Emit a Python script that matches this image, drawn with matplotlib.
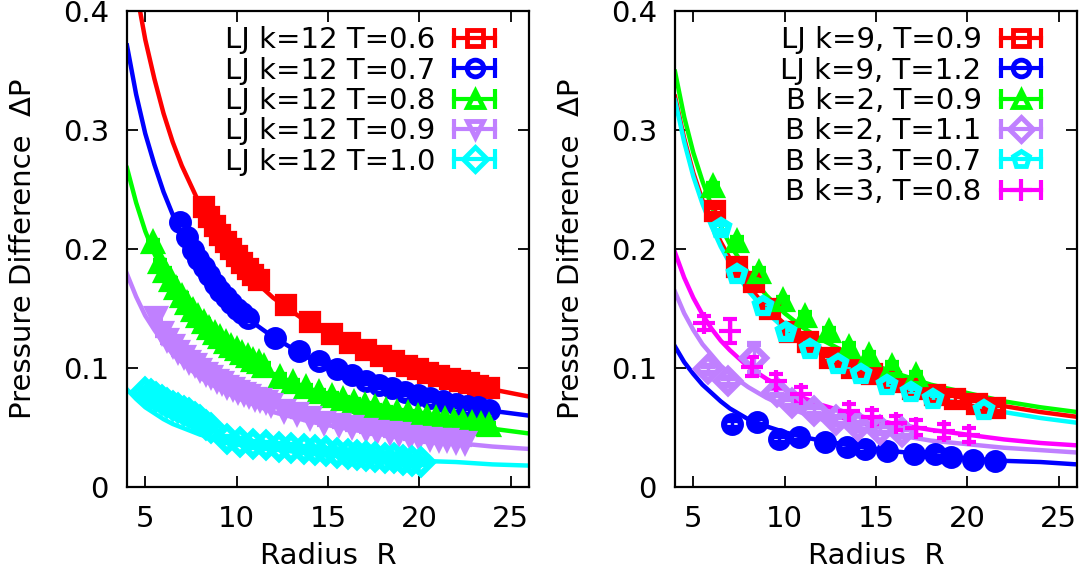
import matplotlib
matplotlib.use("Agg")
import matplotlib.pyplot as plt
from matplotlib.lines import Line2D
from matplotlib.legend_handler import HandlerLine2D, HandlerTuple
from matplotlib.ticker import FuncFormatter

# ---------------- data ----------------
fit_R = [4, 4.5, 5, 5.5, 6, 6.5, 7, 8, 9, 10, 11, 12, 14, 16, 18, 20, 22, 24, 26]

# left panel: fitted curves
L_fit_06 = [0.470, 0.418, 0.376, 0.343, 0.314, 0.290, 0.270, 0.237, 0.211, 0.190, 0.173, 0.159, 0.137, 0.120, 0.107, 0.097, 0.089, 0.082, 0.076]
L_fit_07 = [0.371, 0.330, 0.297, 0.271, 0.248, 0.229, 0.213, 0.187, 0.167, 0.150, 0.137, 0.126, 0.108, 0.095, 0.085, 0.077, 0.070, 0.064, 0.060]
L_fit_08 = [0.268, 0.239, 0.215, 0.196, 0.180, 0.167, 0.155, 0.136, 0.122, 0.110, 0.101, 0.093, 0.080, 0.071, 0.063, 0.058, 0.053, 0.049, 0.045]
L_fit_09 = [0.179, 0.160, 0.144, 0.132, 0.121, 0.112, 0.105, 0.092, 0.083, 0.075, 0.069, 0.063, 0.055, 0.049, 0.044, 0.040, 0.037, 0.034, 0.032]
L_fit_10 = [0.082, 0.074, 0.067, 0.062, 0.057, 0.053, 0.050, 0.044, 0.040, 0.037, 0.034, 0.032, 0.028, 0.026, 0.024, 0.022, 0.021, 0.019, 0.018]

# left panel: measured points
L_R_06 = [8.2, 8.5, 8.8, 9.1, 9.4, 9.7, 10.0, 10.3, 10.6, 10.9, 11.2, 12.7, 14.0, 15.2, 16.2, 17.1, 17.9, 18.6, 19.3, 19.9, 20.5, 21.1, 21.7, 22.2, 22.7, 23.2, 23.8]
L_P_06 = [0.235, 0.227, 0.219, 0.212, 0.206, 0.200, 0.194, 0.188, 0.183, 0.178, 0.174, 0.153, 0.139, 0.129, 0.121, 0.115, 0.110, 0.106, 0.102, 0.099, 0.096, 0.093, 0.091, 0.089, 0.087, 0.085, 0.083]

L_R_07 = [6.9, 7.3, 7.6, 7.9, 8.2, 8.5, 8.8, 9.1, 9.4, 9.7, 10.0, 10.3, 10.6, 12.1, 13.4, 14.5, 15.5, 16.3, 17.1, 17.8, 18.5, 19.2, 19.9, 20.6, 21.3, 22.0, 22.6, 23.2, 23.8]
L_P_07 = [0.223, 0.210, 0.199, 0.192, 0.185, 0.178, 0.171, 0.165, 0.160, 0.155, 0.150, 0.146, 0.142, 0.125, 0.114, 0.106, 0.099, 0.094, 0.089, 0.086, 0.083, 0.080, 0.077, 0.075, 0.072, 0.070, 0.068, 0.067, 0.065]

L_R_08 = [5.45, 5.8, 6.1, 6.4, 6.7, 7.0, 7.3, 7.6, 7.9, 8.2, 8.5, 8.8, 9.1, 9.4, 9.7, 10.0, 10.3, 10.6, 10.9, 11.2, 11.5,
          12.4, 13.1, 13.8, 14.5, 15.2, 15.8, 16.4, 17.0, 17.6, 18.2, 18.8, 19.4, 19.9, 20.4, 20.9, 21.4, 21.9, 22.4, 22.9, 23.4, 23.8]
L_P_08 = [0.205, 0.188, 0.181, 0.173, 0.166, 0.160, 0.154, 0.148, 0.143, 0.138, 0.133, 0.129, 0.125, 0.121, 0.118, 0.115, 0.112, 0.109, 0.106, 0.104, 0.101,
          0.092, 0.087, 0.083, 0.079, 0.076, 0.073, 0.071, 0.068, 0.066, 0.064, 0.062, 0.061, 0.059, 0.058, 0.057, 0.056, 0.055, 0.054, 0.053, 0.052, 0.051]

L_R_09 = [5.6, 5.9, 6.2, 6.5, 6.8, 7.1, 7.4, 7.7, 8.0, 8.3, 8.6, 8.9, 9.2, 9.5, 9.8, 10.1, 10.4, 10.7, 11.0, 11.3, 11.6, 11.9,
          12.6, 13.3, 14.0, 14.8, 15.6, 16.3, 17.1, 17.7, 18.4, 18.9, 19.5, 20.0, 20.6, 21.1, 21.5, 22.0, 22.5]
L_P_09 = [0.143, 0.130, 0.124, 0.119, 0.114, 0.110, 0.106, 0.103, 0.099, 0.096, 0.093, 0.090, 0.088, 0.085, 0.083, 0.081, 0.079, 0.077, 0.075, 0.074, 0.072, 0.070,
          0.065, 0.062, 0.059, 0.055, 0.053, 0.051, 0.049, 0.047, 0.046, 0.045, 0.043, 0.042, 0.041, 0.040, 0.040, 0.039, 0.038]

L_R_10 = [5.0, 5.3, 5.6, 5.9, 6.2, 6.5, 6.8, 7.1, 7.4, 7.7, 8.0, 8.3, 8.6, 9.5, 10.2, 10.9, 11.6, 12.3, 13.0, 13.7, 14.3, 14.9, 15.5, 16.1, 16.6, 17.1, 17.6, 18.1, 18.6, 19.1, 19.6, 20.1]
L_P_10 = [0.080, 0.078, 0.076, 0.073, 0.071, 0.068, 0.066, 0.064, 0.062, 0.059, 0.056, 0.052, 0.050, 0.040, 0.038, 0.036, 0.035, 0.034, 0.033, 0.032, 0.031, 0.030, 0.029, 0.028, 0.027, 0.026, 0.025, 0.024, 0.024, 0.023, 0.022, 0.021]

L_err = [0.002, 0.002, 0.002, 0.002, 0.002]
L_labels = ["LJ k=12 T=0.6", "LJ k=12 T=0.7", "LJ k=12 T=0.8", "LJ k=12 T=0.9", "LJ k=12 T=1.0"]

# right panel: fitted curves
R_fit_a = [0.328, 0.293, 0.264, 0.241, 0.222, 0.206, 0.192, 0.169, 0.151, 0.137, 0.126, 0.116, 0.101, 0.090, 0.081, 0.074, 0.068, 0.063, 0.059]
R_fit_b = [0.118, 0.105, 0.095, 0.086, 0.079, 0.072, 0.066, 0.057, 0.051, 0.046, 0.042, 0.039, 0.034, 0.030, 0.027, 0.024, 0.022, 0.021, 0.019]
R_fit_c = [0.349, 0.311, 0.281, 0.257, 0.236, 0.219, 0.204, 0.180, 0.161, 0.146, 0.134, 0.124, 0.108, 0.096, 0.086, 0.079, 0.072, 0.067, 0.063]
R_fit_d = [0.164, 0.146, 0.132, 0.120, 0.111, 0.102, 0.095, 0.084, 0.075, 0.068, 0.062, 0.057, 0.050, 0.044, 0.039, 0.036, 0.033, 0.031, 0.029]
R_fit_e = [0.325, 0.290, 0.261, 0.238, 0.219, 0.202, 0.188, 0.165, 0.147, 0.133, 0.122, 0.112, 0.097, 0.085, 0.076, 0.069, 0.063, 0.058, 0.054]
R_fit_f = [0.197, 0.176, 0.159, 0.145, 0.133, 0.123, 0.115, 0.101, 0.091, 0.082, 0.075, 0.069, 0.060, 0.053, 0.048, 0.044, 0.040, 0.037, 0.035]

# right panel: measured points
R_R_a = [6.2, 7.4, 8.3, 9.2, 10.3, 11.3, 12.5, 13.7, 14.8, 15.8, 17.0, 18.2, 19.3, 20.5, 21.5]
R_P_a = [0.232, 0.185, 0.172, 0.150, 0.130, 0.122, 0.108, 0.100, 0.095, 0.088, 0.082, 0.077, 0.074, 0.070, 0.066]
R_R_b = [7.1, 8.5, 9.7, 10.8, 12.2, 13.4, 14.4, 15.6, 17.1, 18.2, 19.1, 20.3, 21.5]
R_P_b = [0.053, 0.055, 0.040, 0.042, 0.038, 0.034, 0.032, 0.030, 0.028, 0.028, 0.025, 0.023, 0.022]
R_R_c = [6.1, 7.4, 8.6, 9.9, 11.1, 12.4, 13.5, 14.6, 15.9, 17.2]
R_P_c = [0.252, 0.206, 0.180, 0.156, 0.143, 0.130, 0.117, 0.110, 0.101, 0.093]
R_R_d = [5.8, 6.9, 8.3, 9.6, 10.4, 11.6, 12.8, 14.0, 15.2, 16.4]
R_P_d = [0.099, 0.089, 0.108, 0.080, 0.071, 0.064, 0.056, 0.051, 0.048, 0.046]
R_R_e = [6.5, 7.4, 8.8, 10.1, 11.4, 12.9, 14.2, 15.6, 16.9, 18.1, 20.9]
R_P_e = [0.218, 0.179, 0.152, 0.130, 0.116, 0.103, 0.095, 0.086, 0.080, 0.074, 0.065]
R_R_f = [5.6, 7.0, 8.2, 9.5, 10.9, 13.5, 14.8, 16.1, 17.2, 18.7, 20.1]
R_P_f = [0.138, 0.131, 0.101, 0.089, 0.078, 0.064, 0.059, 0.054, 0.050, 0.047, 0.044]
R_E_f = [0.006, 0.010, 0.008, 0.006, 0.006, 0.006, 0.006, 0.006, 0.006, 0.006, 0.006]
R_E_d = [0.003, 0.003, 0.012, 0.003, 0.003, 0.003, 0.003, 0.003, 0.003, 0.003]
R_err = [0.003, 0.003, 0.003, None, 0.003, None]
R_labels = ["LJ k=9, T=0.9", "LJ k=9, T=1.2", "B k=2, T=0.9", "B k=2, T=1.1", "B k=3, T=0.7", "B k=3, T=0.8"]

x_ticks = [5, 10, 15, 20, 25]
y_ticks = [0, 0.1, 0.2, 0.3, 0.4]
x_label = "Radius  R"
y_label = "Pressure Difference  \u0394P"

# ---------------- styling ----------------
FS = 21
plt.rcParams['font.family'] = ['DejaVu Sans']
plt.rcParams['font.size'] = FS

RED, BLUE, GREEN, PURPLE, CYAN, MAGENTA = "#ff0000", "#0000ff", "#00ff00", "#c080ff", "#00ffff", "#ff00ff"
MS = 12
MEW = 4.5

fig = plt.figure(figsize=(10.9, 5.82), dpi=100)
axL = fig.add_axes([0.1165, 0.1632, 0.3688, 0.8179])
axR = fig.add_axes([0.6193, 0.1632, 0.3688, 0.8179])


def setup(ax):
    ax.set_xlim(4, 26)
    ax.set_ylim(0, 0.4)
    ax.set_xticks(x_ticks)
    ax.set_yticks(y_ticks)
    ax.yaxis.set_major_formatter(FuncFormatter(lambda v, p: "%g" % round(v, 3)))
    ax.tick_params(direction='in', top=True, right=True, length=8, width=1.3, pad=13, labelsize=FS)
    for s in ax.spines.values():
        s.set_linewidth(1.6)
    ax.set_xlabel(x_label, fontsize=FS)
    ax.set_ylabel(y_label, fontsize=FS)
    ax.xaxis.set_label_coords(0.5, -0.115)
    ax.yaxis.set_label_coords(-0.225, 0.5)


def series(ax, R, P, err, fit, color, marker, zfit=2):
    ax.plot(fit_R, fit, color=color, lw=3.2, zorder=zfit, clip_on=True)
    ms = MS + 4 if marker == '+' else MS
    ax.errorbar(R, P, yerr=err, fmt=marker, color=color, ms=ms, mfc='none', mew=MEW if marker != '+' else 3,
                ecolor=color, elinewidth=2.5, capsize=5, capthick=2.5, zorder=3)
    bar = Line2D([], [], color=color, lw=3, marker='|', ms=14, mew=3)
    mk = Line2D([], [], ls='none', color=color, marker=marker, ms=ms,
                mfc='none', mew=3.5 if marker != '+' else 3)
    return bar, mk


def make_legend(ax, entries, labels, anchor):
    hmap = {}
    handles = []
    for bar, mk in entries:
        hmap[bar] = HandlerLine2D(numpoints=2)
        hmap[mk] = HandlerLine2D(numpoints=1)
        handles.append((bar, mk))
    hmap[tuple] = HandlerTuple(ndivide=1)
    leg = ax.legend(handles, labels, loc='upper right', bbox_to_anchor=anchor,
                    frameon=False, markerfirst=False, handlelength=2.0, handletextpad=0.35,
                    labelspacing=0.08, borderpad=0, borderaxespad=0, fontsize=FS,
                    handler_map=hmap)
    return leg


setup(axL)
setup(axR)

entL = [
    series(axL, L_R_06, L_P_06, L_err[0], L_fit_06, RED, 's'),
    series(axL, L_R_07, L_P_07, L_err[1], L_fit_07, BLUE, 'o'),
    series(axL, L_R_08, L_P_08, L_err[2], L_fit_08, GREEN, '^'),
    series(axL, L_R_09, L_P_09, L_err[3], L_fit_09, PURPLE, 'v'),
    series(axL, L_R_10, L_P_10, L_err[4], L_fit_10, CYAN, 'D'),
]
make_legend(axL, entL, L_labels, (0.938, 0.968))

entR = [
    series(axR, R_R_a, R_P_a, R_err[0], R_fit_a, RED, 's'),
    series(axR, R_R_b, R_P_b, R_err[1], R_fit_b, BLUE, 'o'),
    series(axR, R_R_c, R_P_c, R_err[2], R_fit_c, GREEN, '^'),
    series(axR, R_R_d, R_P_d, R_E_d, R_fit_d, PURPLE, 'D'),
    series(axR, R_R_e, R_P_e, R_err[4], R_fit_e, CYAN, 'p'),
    series(axR, R_R_f, R_P_f, R_E_f, R_fit_f, MAGENTA, '+'),
]
make_legend(axR, entR, R_labels, (0.933, 0.968))

fig.savefig("out.png", dpi=100)
